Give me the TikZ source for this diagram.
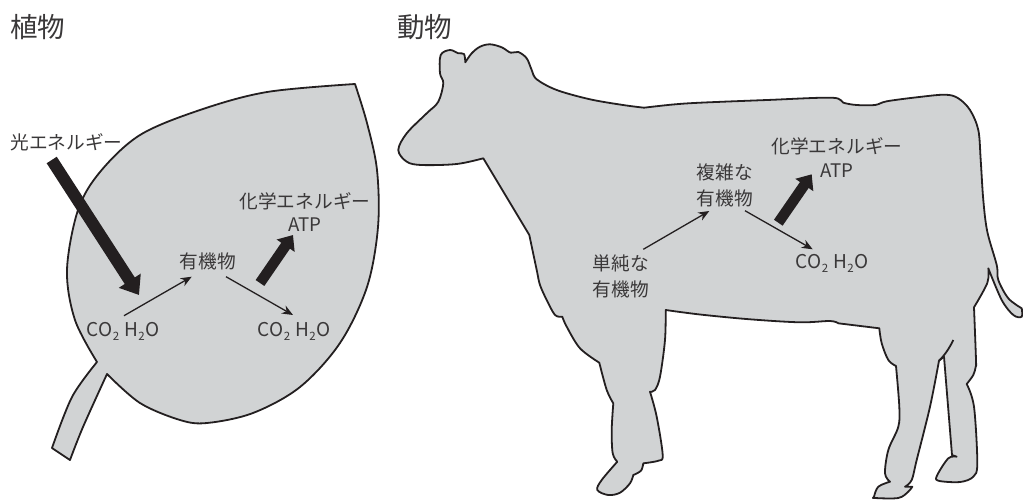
\documentclass[tikz,border=0pt]{standalone}
\usepackage{fontspec}
\setmainfont{Noto Sans CJK JP}
\usetikzlibrary{arrows.meta}
\definecolor{ink}{HTML}{231F20}
\definecolor{textink}{HTML}{3A3839}
\definecolor{body}{HTML}{D1D3D4}
\newcommand{\lowtwo}{\raisebox{-0.22em}{\fontsize{11.5}{11.5}\selectfont 2}}
\newcommand{\gases}{{\fontsize{19}{19}\selectfont CO\kern0.3pt\lowtwo\kern5pt H\kern0.3pt\lowtwo\kern0.3pt O}}
\tikzset{
  silhouette/.style={draw=ink,fill=body,line width=1.8pt,line join=round},
  label/.style={text=textink,font=\fontsize{18.7}{18.7}\selectfont,inner sep=0pt,align=center},
  heading/.style={text=textink,font=\fontsize{27.5}{27.5}\selectfont,inner sep=0pt},
  thinflow/.style={draw=ink,line width=1.3pt,-{Stealth[length=11pt,width=9pt]}},
  thickflow/.style={draw=ink,line width=10.5pt,-{Triangle[length=13pt,width=21pt]}},
  lightflow/.style={draw=ink,line width=12pt,-{Triangle[length=17pt,width=25pt]}},
  sm/.style={smooth,tension=0.55}
}
\begin{document}
\begin{tikzpicture}[x=1pt,y=-1pt]
\useasboundingbox (0,0) rectangle (1023,499);

% Leaf with its stalk
\draw[silhouette] (355,84)
  -- plot[sm] coordinates {(355,84) (267,92) (200,110) (140,135) (100,172) (78,210) (67,270) (75,320) (97,362)}
  -- plot[sm] coordinates {(97,362) (72,397) (52,448)}
  -- (70,460)
  -- plot[sm] coordinates {(70,460) (83,427) (107,374)}
  -- plot[sm] coordinates {(107,374) (140,403) (180,420) (207,423) (253,413) (300,387) (340,343) (367,287) (378,227) (377,170) (367,123) (355,84)}
  -- cycle;

% Cow outline, clockwise from the notch behind the ear
\draw[silhouette] (465.3,62.3)
  -- plot[sm] coordinates {(465.3,62.3) (471.7,53.3) (480,46.7) (490,44.3) (501.7,47.3) (510.7,52.7) (518.3,52) (526.7,58.3) (531.7,70) (536.7,79.3) (556.7,90) (590,99.3) (623,105) (644,107.7)}
  -- plot[sm] coordinates {(644,107.7) (673,104.5) (700,102.7) (767,100) (831.7,97.7) (843.3,102.7) (856.7,105) (875,105) (886.7,101.3) (916.7,97.3) (945,94.7) (958.3,98.3) (970,110) (978.3,130) (980.7,160) (983.3,200) (987.3,231.7) (996.7,265) (998.3,280) (1008.3,298.3) (1021.7,308.3)}
  -- plot[sm] coordinates {(1021.7,308.3) (1021.7,316.7) (1013.3,315) (1001.7,300) (988.3,268.3)}
  -- plot[sm] coordinates {(988.3,268.3) (987.3,283) (974,307.3)}
  -- plot[sm] coordinates {(974,307.3) (976,360) (975.7,366.7) (973.3,375) (966.7,384)}
  -- plot[sm] coordinates {(966.7,384) (974,406.7) (977.3,463.3) (973.3,476.7) (960,482) (938.3,480.7) (937.3,475) (948.3,458.3) (956.7,456.7)}
  -- (952,455) -- (944,356.7) -- (939,360.7)
  -- plot[sm] coordinates {(939,360.7) (930,406.7) (916.7,460) (911.7,480) (905,486.7)}
  -- (912.3,486.7)
  -- plot[sm] coordinates {(912.3,486.7) (908.3,491.7) (898.3,498) (875,498) (874,496.7) (878.3,486.7) (890,481.7)}
  -- plot[sm] coordinates {(890,481.7) (885,473.3) (888.3,450) (898.3,426.7) (899.3,406.7) (896,366)}
  -- plot[sm] coordinates {(896,366) (888.3,360) (881.7,343.3) (879.3,328.3)}
  -- (838.3,323.3)
  -- plot[sm] coordinates {(838.3,323.3) (830,321) (800,322.3) (750,319.3) (700,314.5) (665.7,310)}
  -- plot[sm] coordinates {(665.7,310) (665,340) (660,376.7) (655,390) (650,391.7)}
  -- plot[sm] coordinates {(650,391.7) (656.7,416.7) (662.7,455) (658.3,460.7) (643.3,463.3)}
  -- plot[sm] coordinates {(643.3,463.3) (641,470.7) (633.3,475)}
  -- plot[sm] coordinates {(633.3,475) (630,483.3) (620,492.7) (608.3,495) (597.3,490) (601.7,480) (617.3,461.7)}
  -- plot[sm] coordinates {(617.3,461.7) (612.7,453.3) (611.7,430) (613.3,403.3)}
  -- plot[sm] coordinates {(613.3,403.3) (606.7,390) (599.3,362.7)}
  -- plot[sm] coordinates {(599.3,362.7) (580,348.3) (566.7,326.7) (562.3,316.7)}
  -- plot[sm] coordinates {(562.3,316.7) (555,315) (546.7,300) (540,285) (536.7,270) (529.3,235)}
  -- (483.3,158.3)
  -- plot[sm] coordinates {(483.3,158.3) (456.7,164) (421.7,165) (406.7,161.7) (398.3,150) (406.7,133.3) (426.7,113.3) (438.3,101.7) (443.3,83.3) (440,73.3) (440.7,55) (450,50) (458.3,53.3) (464,54) (465.3,62.3)}
  -- cycle;
% Crease where the far hind leg meets the flank
\coordinate (creaseA) at (939,360.7);
\coordinate (creaseB) at (953.3,340);
\draw[draw=ink,line width=1.8pt] (creaseA) .. controls (945,355) and (950,347) .. (creaseB);

% Headings
\node[heading] (plantTitle) at (37.5,27.5) {植物};
\node[heading] (animalTitle) at (424.5,27.5) {動物};

% Plant labels
\node[label] (lightEnergy) at (66.5,142) {光エネルギー};
\node[label] (plantOrganic) at (208,261) {有機物};
\node[label] (plantChem) at (305,201) {化学エネルギー};
\node[label] (plantATP) at (305,225) {ATP};
\node[label] (plantIn) at (123,331) {\gases};
\node[label] (plantOut) at (294,331) {\gases};

% Animal labels
\node[label] (animalChem) at (837,146.5) {化学エネルギー};
\node[label] (animalATP) at (837,171) {ATP};
\node[label] (complexA) at (725,172) {複雑な};
\node[label] (complexB) at (725,198) {有機物};
\node[label] (simpleA) at (621,263) {単純な};
\node[label] (simpleB) at (621,289) {有機物};
\node[label] (animalOut) at (832,263) {\gases};

% Free ends of the flows
\coordinate (lightStart) at (51.7,160);
\coordinate (lightEnd) at (139,295);
\coordinate (pIn) at (124,315.7);
\coordinate (pMidIn) at (191.7,276.7);
\coordinate (pMidOut) at (226,276.7);
\coordinate (pOut) at (293,315);
\coordinate (pThickA) at (260,283);
\coordinate (pThickB) at (293,235);
\coordinate (aIn) at (643.3,249.3);
\coordinate (aMidIn) at (709.3,211);
\coordinate (aMidOut) at (745,210.7);
\coordinate (aOut) at (812.7,249.3);
\coordinate (aThickA) at (778.3,222.7);
\coordinate (aThickB) at (811.7,174.3);

% Flows
\draw[lightflow] (lightStart) -- (lightEnd);
\draw[thinflow] (pIn) -- (pMidIn);
\draw[thinflow] (pMidOut) -- (pOut);
\draw[thickflow] (pThickA) -- (pThickB);
\draw[thinflow] (aIn) -- (aMidIn);
\draw[thinflow] (aMidOut) -- (aOut);
\draw[thickflow] (aThickA) -- (aThickB);
\end{tikzpicture}
\end{document}
